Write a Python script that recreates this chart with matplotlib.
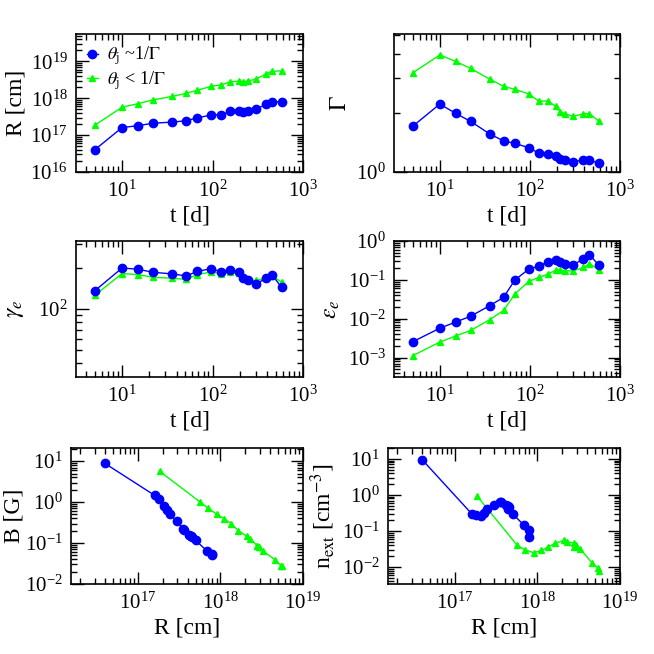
import matplotlib
matplotlib.use('Agg')
import matplotlib.pyplot as plt
import numpy as np
from matplotlib.ticker import LogLocator, NullFormatter

plt.rcParams['font.family'] = ['Liberation Serif', 'DejaVu Serif']
plt.rcParams['mathtext.fontset'] = 'stix'

# time of the epochs [d]
t = [5, 10, 15, 22, 36, 51, 68, 97, 125, 158, 194, 215, 244, 302, 393, 458, 581]

# theta_j ~ 1/Gamma (blue)
R_a = [4.0e16, 1.6e17, 1.8e17, 2.1e17, 2.25e17, 2.45e17, 2.95e17, 3.5e17, 3.6e17,
       4.4e17, 4.5e17, 4.2e17, 4.4e17, 5.0e17, 6.9e17, 8.0e17, 8.0e17]
G_a = [1.71, 2.22, 1.99, 1.81, 1.56, 1.44, 1.40, 1.33, 1.25, 1.24, 1.20, 1.16,
       1.15, 1.13, 1.15, 1.15, 1.11]
ge_a = [136, 200, 196, 186, 181, 175, 189, 198, 187, 194, 187, 168, 162, 153,
        168, 177, 144]
ee_a = [2.55e-3, 5.7e-3, 8.2e-3, 1.16e-2, 2.18e-2, 3.55e-2, 9.9e-2, 0.188, 0.225,
        0.29, 0.327, 0.29, 0.263, 0.248, 0.34, 0.447, 0.239]
B_a = [8.8, 1.46, 1.16, 0.80, 0.63, 0.50, 0.34, 0.224, 0.21, 0.15, 0.14, 0.16,
       0.15, 0.116, 0.064, 0.053, 0.050]
n_a = [9.6, 0.30, 0.286, 0.257, 0.325, 0.40, 0.54, 0.64, 0.62, 0.50, 0.45, 0.52,
       0.42, 0.30, 0.144, 0.11, 0.068]

# theta_j < 1/Gamma (green)
R_b = [1.85e17, 5.7e17, 7.1e17, 9.0e17, 1.12e18, 1.35e18, 1.65e18, 2.1e18, 2.3e18,
       2.8e18, 2.9e18, 2.8e18, 2.9e18, 3.3e18, 4.6e18, 5.4e18, 5.5e18]
G_b = [3.20, 3.95, 3.66, 3.37, 2.97, 2.73, 2.64, 2.50, 2.30, 2.30, 2.16, 2.03,
       1.98, 1.92, 1.98, 1.98, 1.82]
ge_b = [126, 182, 179, 171, 168, 165, 179, 187, 182, 186, 183, 172, 164, 162,
        169, 175, 157]
ee_b = [1.12e-3, 2.5e-3, 3.6e-3, 5.0e-3, 9.5e-3, 1.63e-2, 4.3e-2, 9.1e-2, 0.115,
        0.14, 0.178, 0.178, 0.171, 0.171, 0.208, 0.263, 0.181]
B_b = [5.6, 1.0, 0.71, 0.51, 0.385, 0.30, 0.20, 0.146, 0.128, 0.085, 0.080, 0.083,
       0.078, 0.063, 0.039, 0.028, 0.027]
n_b = [0.94, 0.040, 0.030, 0.025, 0.029, 0.036, 0.046, 0.055, 0.050, 0.046, 0.040,
       0.036, 0.038, 0.032, 0.013, 0.0094, 0.0077]

fig = plt.figure(figsize=(6.54, 6.54), dpi=100)
W = 654.0
def box(l, r, top, bot):
    return [l / W, 1 - bot / W, (r - l) / W, (bot - top) / W]

axs = [fig.add_axes(box(76, 303, 34, 172)), fig.add_axes(box(394, 620, 34, 172)),
       fig.add_axes(box(76, 303, 241, 377)), fig.add_axes(box(394, 620, 241, 377)),
       fig.add_axes(box(71, 303, 448, 584)), fig.add_axes(box(388, 620, 448, 584))]

blue = dict(color='blue', marker='o', ms=6, lw=1)
green = dict(color='lime', marker='^', ms=4, lw=1)

panels = [
    (t, R_a, t, R_b, (3.1, 1000), (1e16, 5.5e19), 't [d]', 'R [cm]'),
    (t, G_a, t, G_b, (3.1, 1000), (1, 5.05), 't [d]', r'$\Gamma$'),
    (t, ge_a, t, ge_b, (3.1, 1000), (31.6, 316), 't [d]', r'$\gamma_e$'),
    (t, ee_a, t, ee_b, (3.1, 1000), (10**-3.5, 1), 't [d]', r'$\epsilon_e$'),
    (R_a, B_a, R_b, B_b, (1.55e16, 1e19), (0.01, 21), 'R [cm]', 'B [G]'),
    (R_a, n_a, R_b, n_b, (1.55e16, 1e19), (3.4e-3, 20), 'R [cm]',
     r'n$_{\rm ext}$ [cm$^{-3}$]'),
]
# label centre x in pixels and panel left/width
ylab_px = [16, 340, 16, 331, 14, 323]
lefts = [(76, 227), (394, 226), (76, 227), (394, 226), (71, 232), (388, 232)]

for i, (ax, p) in enumerate(zip(axs, panels)):
    xa, ya, xb, yb, xl, yl, xlab, ylab = p
    ax.plot(xb, yb, **green, label=r'$\theta_{\rm j}$ < 1/$\Gamma$')
    ax.plot(xa, ya, **blue, label=r'$\theta_{\rm j}$ ~1/$\Gamma$')
    ax.set_xscale('log')
    ax.set_yscale('log')
    ax.set_xlim(xl)
    ax.set_ylim(yl)
    for axis in (ax.xaxis, ax.yaxis):
        axis.set_major_locator(LogLocator(base=10, numticks=20))
        axis.set_minor_locator(LogLocator(base=10, subs=np.arange(2, 10), numticks=20))
        axis.set_minor_formatter(NullFormatter())
    ax.tick_params(which='both', direction='in', top=True, right=True,
                   labelsize=15, width=1)
    ax.tick_params(which='major', length=9, pad=6)
    ax.tick_params(which='minor', length=4.5)
    for s in ax.spines.values():
        s.set_linewidth(1.2)
    ax.set_xlabel(xlab, fontsize=17, labelpad=3)
    ax.set_ylabel(ylab, fontsize=17, va='center')
    l0, w0 = lefts[i]
    ax.yaxis.set_label_coords((ylab_px[i] - l0) / w0, 0.5)

h, l = axs[0].get_legend_handles_labels()
axs[0].legend(h[::-1], l[::-1], loc='upper left', frameon=False, fontsize=13,
              handlelength=0.6, handletextpad=0.5, borderaxespad=0.3,
              labelspacing=0.1, borderpad=0.3)

fig.savefig('out.png', dpi=100)
